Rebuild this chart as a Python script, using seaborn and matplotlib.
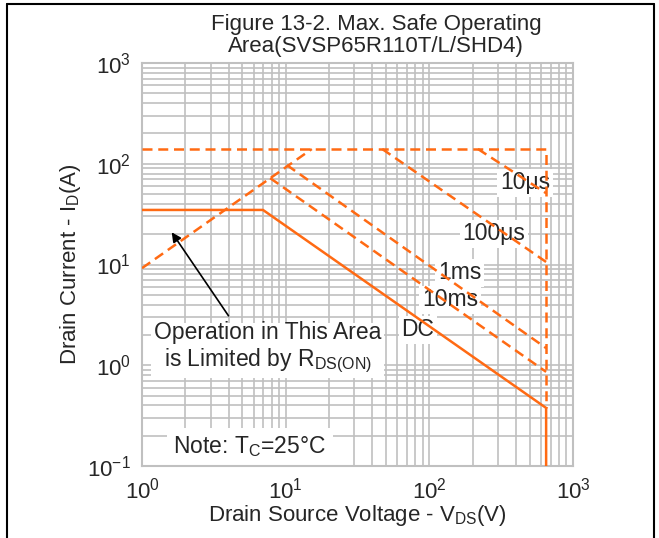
import numpy as np
import pandas as pd
import matplotlib
matplotlib.use('Agg')
import matplotlib.pyplot as plt
import seaborn as sns

# SOA curves (V in volts, I in amps)
limit_v = [1, 650, 650]
limit_i = [140, 140, 0.377]
rds_v = [1, 15.2]
rds_i = [9.2, 140]
us10_v = [218, 650]
us10_i = [140, 51]
us100_v = [47, 650]
us100_i = [140, 10.6]
ms1_v = [10.2, 650]
ms1_i = [97, 1.48]
ms10_v = [7.8, 650]
ms10_i = [72, 0.86]
dc_v = [1, 6.95, 650, 650]
dc_i = [34.8, 34.8, 0.377, 0.1]

sns.set_style('white')
plt.rcParams['font.family'] = ['Liberation Sans', 'DejaVu Sans']
plt.rcParams['mathtext.default'] = 'regular'

orange = '#FF6A13'
grey = '#C0C0C0'
fs = 16.5

fig = plt.figure(figsize=(6.59, 5.38), dpi=100)
ax = fig.add_axes([0.2155, 0.1338, 0.654, 0.7491])

dashed = [(limit_v, limit_i), (rds_v, rds_i), (us10_v, us10_i),
          (us100_v, us100_i), (ms1_v, ms1_i), (ms10_v, ms10_i)]
for v, i in dashed:
    sns.lineplot(x=v, y=i, ax=ax, color=orange, linewidth=1.8, sort=False,
                 estimator=None, linestyle=(0, (4, 2.3)), zorder=3)
sns.lineplot(x=dc_v, y=dc_i, ax=ax, color=orange, linewidth=1.8, sort=False,
             estimator=None, zorder=3)

ax.set_xscale('log')
ax.set_yscale('log')
ax.set_xlim(1, 1000)
ax.set_ylim(0.1, 1000)
ax.set_xticks([1, 10, 100, 1000])
ax.set_xticklabels(['$10^{0}$', '$10^{1}$', '$10^{2}$', '$10^{3}$'])
ax.set_yticks([0.1, 1, 10, 100, 1000])
ax.set_yticklabels(['$10^{-1}$', '$10^{0}$', '$10^{1}$', '$10^{2}$', '$10^{3}$'])
ax.tick_params(axis='both', which='both', length=0, labelsize=16, pad=8)
ax.grid(True, which='both', color=grey, linewidth=1.2, zorder=0)
ax.set_axisbelow(True)
for s in ax.spines.values():
    s.set_color(grey)
    s.set_linewidth(1.5)

ax.set_xlabel('Drain Source Voltage - V$_{DS}$(V)', fontsize=16, labelpad=0)
ax.set_ylabel('Drain Current - I$_{D}$(A)', fontsize=16, labelpad=3)

fig.text(0.571, 0.934, 'Figure 13-2. Max. Safe Operating\nArea(SVSP65R110T/L/SHD4)',
         ha='center', va='center', fontsize=16, linespacing=1.1)

box = dict(facecolor='white', edgecolor='none', pad=2)
ax.text(463, 64.5, '10μs', ha='center', va='center', fontsize=fs, bbox=box, zorder=2)
ax.text(282, 20.1, '100μs', ha='center', va='center', fontsize=fs, bbox=box, zorder=2)
ax.text(163, 8.24, '1ms', ha='center', va='center', fontsize=fs, bbox=box, zorder=2)
ax.text(139, 4.45, '10ms', ha='center', va='center', fontsize=fs, bbox=box, zorder=2)
ax.text(83.3, 2.24, 'DC', ha='center', va='center', fontsize=fs, bbox=box, zorder=2)
ax.text(7.5, 1.48, 'Operation in This Area\nis Limited by R$_{DS(ON)}$',
        ha='center', va='center', fontsize=fs, linespacing=1.1, bbox=box, zorder=2)
ax.text(5.64, 0.155, 'Note: T$_{C}$=25°C', ha='center', va='center', fontsize=fs,
        bbox=dict(facecolor='white', edgecolor='none', pad=5), zorder=2)
ax.annotate('', xy=(1.57, 22), xytext=(4.1, 2.94),
            arrowprops=dict(arrowstyle='-|>', color='black', lw=1.2,
                            mutation_scale=14), zorder=4)

# frame around the figure
fig.add_artist(plt.Line2D([0.011, 0.011], [-0.1, 0.993], color='black', lw=1.5))
fig.add_artist(plt.Line2D([0.011, 0.992], [0.993, 0.993], color='black', lw=1.5))
fig.add_artist(plt.Line2D([0.992, 0.992], [-0.1, 0.993], color='black', lw=1.5))

fig.savefig('out.png', dpi=100)
